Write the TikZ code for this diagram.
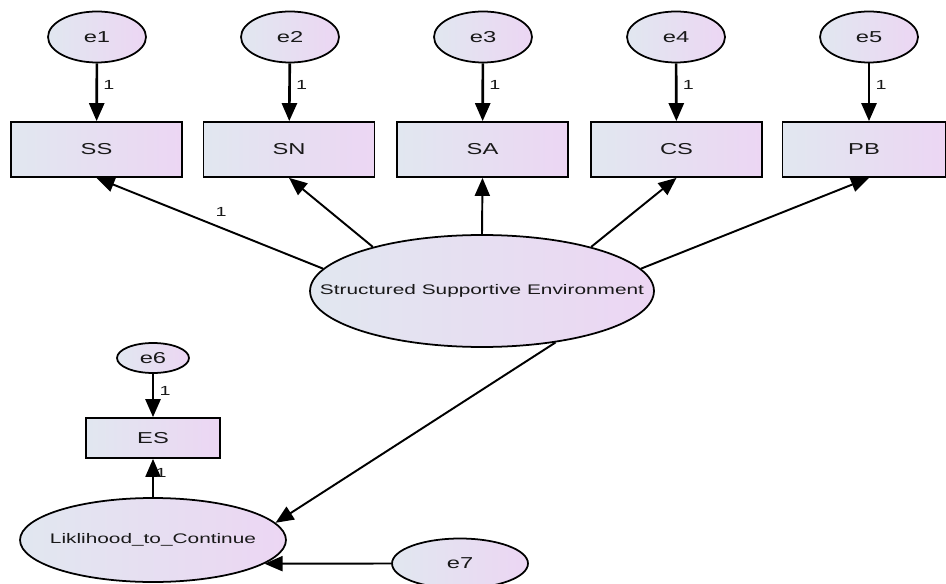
\documentclass[tikz,border=0pt]{standalone}
\usepackage{fontspec}
\newfontfamily\amosfont[FakeStretch=1.5]{Liberation Sans}
\usetikzlibrary{shapes.geometric, arrows.meta}
\definecolor{amosleft}{RGB}{225,231,240}
\definecolor{amosright}{RGB}{236,214,243}
\definecolor{amostext}{RGB}{25,25,25}

\begin{document}
\begin{tikzpicture}[
    x=0.02cm,
    y=-0.02cm,
    >={Triangle[length=0.36cm, width=0.3cm]},
    errvar/.style={
        ellipse,
        draw,
        line width=1pt,
        inner sep=0pt,
        minimum width=1.96cm,
        minimum height=1.02cm,
        left color=amosleft,
        right color=amosright,
        text=amostext,
        font=\amosfont\fontsize{9}{10}\selectfont
    },
    obsvar/.style={
        rectangle,
        draw,
        line width=1pt,
        inner sep=0pt,
        minimum width=3.42cm,
        minimum height=1.1cm,
        left color=amosleft,
        right color=amosright,
        text=amostext,
        font=\amosfont\fontsize{9}{10}\selectfont
    },
    latent/.style={
        ellipse,
        draw,
        line width=1pt,
        inner sep=0pt,
        left color=amosleft,
        right color=amosright
    },
    latenttext/.style={
        inner sep=0pt,
        text=amostext,
        font=\amosfont\fontsize{7.9}{9}\selectfont
    },
    errpath/.style={->, line width=1.5pt},
    regpath/.style={->, line width=1.1pt},
    weight/.style={
        inner sep=1pt,
        text=amostext,
        font=\amosfont\fontsize{7.5}{8}\selectfont
    }
]

    \useasboundingbox (0,0) rectangle (946,584);

    % Indicators of the latent factor
    \foreach \lab/\x [count=\i] in {SS/96.5, SN/289, SA/482.5, CS/676.5}
        \node[obsvar] (\lab) at (\x,149.5) {\lab};
    \node[obsvar, minimum width=3.26cm] (PB) at (864,149.5) {PB};

    % Error terms
    \foreach \x [count=\i] in {97, 290, 483, 676, 869}
        \node[errvar] (e\i) at (\x,37) {e\i};

    % Latent variables
    \node[latent, minimum width=6.88cm, minimum height=2.24cm,
        label={[latenttext]center:Structured Supportive Environment}] (SSE) at (482,291) {};
    \node[latent, minimum width=5.32cm, minimum height=1.68cm,
        label={[latenttext]center:Liklihood\_to\_Continue}] (LTC) at (153,540) {};

    % Outcome indicator and its error
    \node[obsvar, minimum width=2.68cm, minimum height=0.8cm] (ES) at (153,438) {ES};
    \node[errvar, minimum width=1.44cm, minimum height=0.6cm] (e6) at (153,358) {e6};
    \node[errvar, minimum width=2.72cm, minimum height=1cm] (e7) at (460,563.5) {e7};

    % Error paths
    \foreach \i/\lab in {1/SS, 2/SN, 3/SA, 4/CS}
        \draw[errpath] (e\i) -- node[weight, right=2pt, pos=0.37] {1} (\lab);
    \draw[errpath] (e5) -- node[weight, right=2pt, pos=0.37] {1} (e5 |- PB.north);
    \draw[errpath] (e6) -- node[weight, right=2pt, pos=0.4] {1} (ES);

    % Loadings
    \draw[regpath] (SSE.172) -- node[weight, above=5pt, pos=0.45] {1} (SS.south);
    \draw[regpath] (SSE.158) -- (SN.south);
    \draw[regpath] (SSE.north) -- (SA.south);
    \draw[regpath] (SSE.22) -- (CS.south);
    \draw[regpath] (SSE.8) -- (PB.south -| e5);
    \draw[regpath] (LTC.north) -- node[weight, right=0pt, pos=0.62] {1} (ES.south);

    % Structural paths
    \draw[regpath] (SSE.-35.5) -- (LTC.8);
    \draw[regpath] (e7.west) -- (LTC.-12);

\end{tikzpicture}
\end{document}
